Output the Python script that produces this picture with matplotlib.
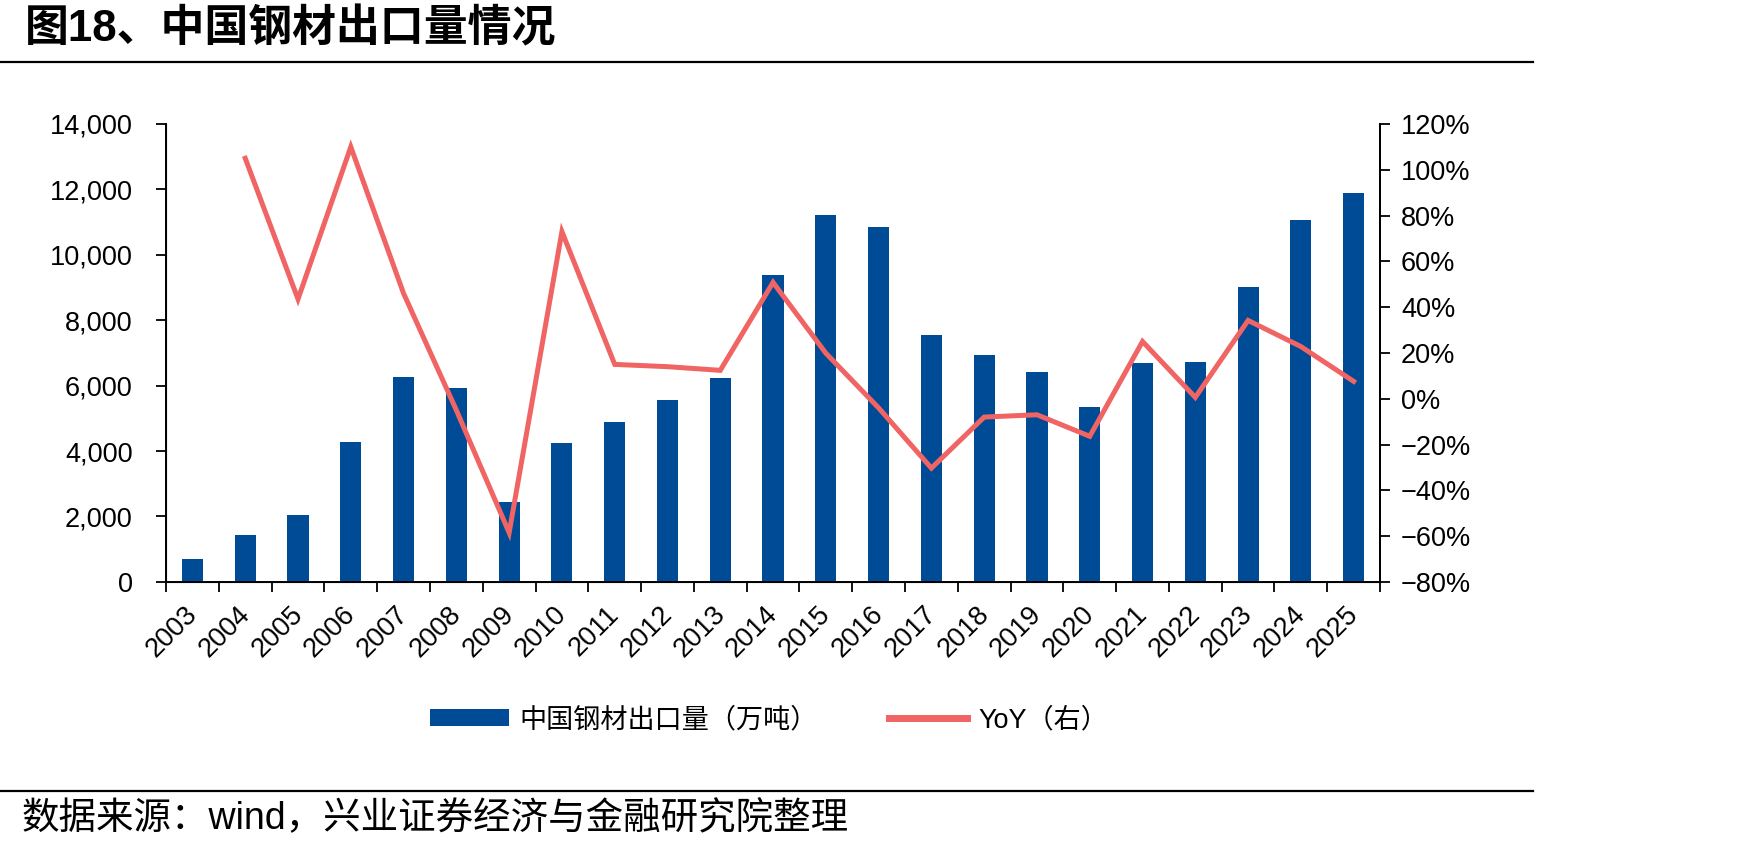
import numpy as np
import matplotlib
matplotlib.use("Agg")
import matplotlib.pyplot as plt
import matplotlib.ticker as mtick
import matplotlib.transforms as mtrans
from matplotlib.lines import Line2D
from matplotlib.patches import Patch

plt.rcParams['font.family'] = ['Liberation Sans', 'Noto Sans CJK SC', 'DejaVu Sans']
plt.rcParams['axes.unicode_minus'] = True

# data
years = [str(y) for y in range(2003, 2026)]
exports = [690, 1420, 2050, 4290, 6260, 5920, 2450, 4250, 4880, 5560, 6230, 9380,
           11230, 10850, 7540, 6930, 6420, 5360, 6690, 6720, 9020, 11060, 11890]
yoy = [np.nan, 105, 43.5, 110, 46, -5, -58.5, 73, 15, 14, 12.4, 50.8,
       19.9, -4, -30.3, -8, -7, -16.4, 25, 0.6, 34.2, 22.8, 7.6]

title = "图18、中国钢材出口量情况"
source = "数据来源：wind，兴业证券经济与金融研究院整理"
bar_label = "中国钢材出口量（万吨）"
line_label = "YoY（右）"

bar_color = "#004B96"
line_color = "#F06464"
tick_size = 19.5

fig = plt.figure(figsize=(17.48, 8.52), dpi=100)
ax = fig.add_axes([0.095, 0.317, 0.6945, 0.5375])
x = np.arange(len(years))

ax.bar(x, exports, width=0.4, color=bar_color, zorder=2)
ax.set_xlim(-0.5, len(years) - 0.5)
ax.set_ylim(0, 14000)
ax.yaxis.set_major_locator(mtick.MultipleLocator(2000))
ax.yaxis.set_major_formatter(mtick.StrMethodFormatter("{x:,.0f}"))

# tick marks at category boundaries, labels at the centres
ax.set_xticks(np.arange(-0.5, len(years), 1.0))
ax.set_xticklabels([])
ax.set_xticks(x, minor=True)
ax.tick_params(axis='x', which='major', direction='out', length=7, width=1.3)
ax.tick_params(axis='x', which='minor', length=0, pad=14)
ax.tick_params(axis='y', direction='out', length=7, width=1.3,
               labelsize=tick_size, pad=17)
ax.set_xticklabels(years, minor=True, rotation=45, ha='right', va='top',
                   fontsize=tick_size)
# nudge the rotated year labels a little to the right
shift = mtrans.ScaledTranslation(10 / 100, 0, fig.dpi_scale_trans)
for lab in ax.get_xticklabels(minor=True):
    lab.set_transform(lab.get_transform() + shift)

ax.spines['top'].set_visible(False)
for side in ['left', 'bottom', 'right']:
    ax.spines[side].set_linewidth(1.4)

ax2 = ax.twinx()
ax2.plot(x, yoy, color=line_color, lw=3.6, solid_joinstyle='miter', zorder=3)
ax2.set_ylim(-80, 120)
ax2.yaxis.set_major_locator(mtick.MultipleLocator(20))
ax2.yaxis.set_major_formatter(mtick.FuncFormatter(
    lambda v, _: f"{v:.0f}%".replace("-", "\u2212")))
ax2.tick_params(axis='y', direction='out', length=7, width=1.3,
                labelsize=tick_size, pad=8)
ax2.spines['top'].set_visible(False)
ax2.spines['right'].set_linewidth(1.4)

# legend at the bottom centre
handles = [Patch(facecolor=bar_color, edgecolor='none'),
           Line2D([0], [0], color=line_color, lw=5)]
fig.legend(handles, [bar_label, line_label], loc='center',
           bbox_to_anchor=(0.44, 0.155), ncol=2, frameon=False,
           fontsize=tick_size, handlelength=2.9, handleheight=0.55,
           handletextpad=0.4, columnspacing=2.6)

# title, rules and source note
fig.text(0.0143, 0.965, title, fontsize=31.6, fontweight='bold', va='center', ha='left')
fig.add_artist(Line2D([0, 0.877], [0.9276, 0.9276], color='black', lw=1.6))
fig.add_artist(Line2D([0, 0.877], [0.0716, 0.0716], color='black', lw=1.6))
fig.text(0.0126, 0.0387, source, fontsize=27, va='center', ha='left')

fig.savefig("out.png", dpi=100)
